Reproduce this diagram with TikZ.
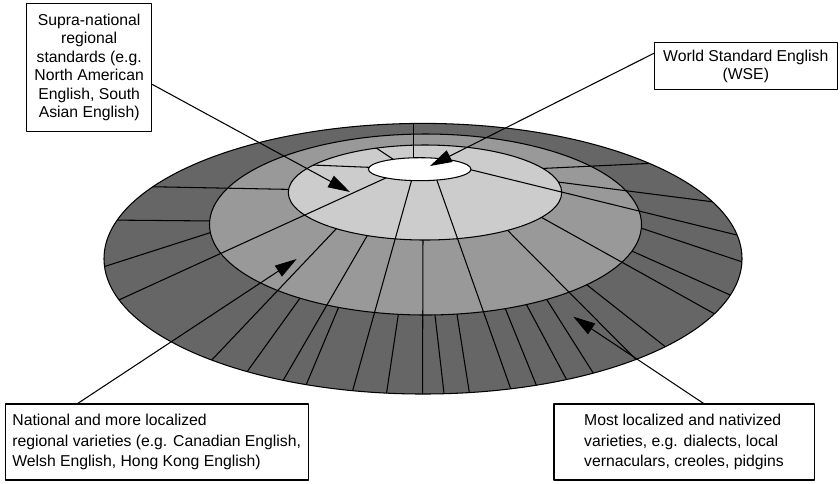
\documentclass[tikz,border=0pt]{standalone}
\usepackage{fontspec}
\setmainfont{Liberation Sans}
\usetikzlibrary{arrows.meta}
\definecolor{ringdark}{gray}{0.4}
\definecolor{ringmid}{gray}{0.6}
\definecolor{ringlight}{gray}{0.8}
\newcommand{\outerlines}{216/221/105/220, 216/230.8/98/268.6, 303/294/244/376, 340/304/304/390, 399/310/385.5/400, 434.4/310/445/402, 456/308/470.5/400, 503/303/539.5/393, 524/300/570/386, 544.5/296/597/379, 582/281/672/352, 628/249.3/738/298.5, 636/226.4/750/264.5}
\newcommand{\lightlines}{296/189.5/140/186.5, 342/222.7/207/365, 370.5/230/279/387.5, 423/233/422.5/402, 503/225.7/643/366.5, 535/213.8/722/318, 550/181/722/203, 535/168.8/662/162.8}
\newcommand{\whitelines}{413.3/165/413.3/115, 395.6/173.5/110/304, 413.5/173.5/350.5/398.3, 434.5/173.5/514/398, 462/167.6/747/237.5}
\newcommand{\innerlines}{397.7/162.3/371.7/145, 376/167.6/300/164.5}
\begin{document}
\begin{tikzpicture}[x=0.025cm,y=-0.025cm,>={Triangle[length=5.5mm,width=3.2mm]},line join=round,line cap=round,line width=0.75pt,
	callout/.style={draw,fill=white,inner sep=2pt,align=center,font=\fontsize{11.2}{13.2}\selectfont},
	widecallout/.style={callout,align=left,font=\fontsize{11.2}{14.4}\selectfont}]
	\useasboundingbox (0,0) rectangle (840,483);
	\coordinate (outerc) at (423,258.7);
	\coordinate (midc) at (425.5,224.5);
	\coordinate (lightc) at (425,192.5);
	\coordinate (whitec) at (419.7,169.2);
	\fill[ringdark] (outerc) ellipse [x radius=319,y radius=135.3];
	\begin{scope}
		\clip (outerc) ellipse [x radius=319,y radius=135.3];
		\foreach \xa/\ya/\xb/\yb in \outerlines {\draw (\xa,\ya)--(\xb,\yb);}
		\foreach \xa/\ya/\xb/\yb in \lightlines {\draw (\xa,\ya)--(\xb,\yb);}
		\foreach \xa/\ya/\xb/\yb in \whitelines {\draw (\xa,\ya)--(\xb,\yb);}
	\end{scope}
	\fill[ringmid] (midc) ellipse [x radius=216,y radius=90.5];
	\begin{scope}
		\clip (midc) ellipse [x radius=216,y radius=90.5];
		\foreach \xa/\ya/\xb/\yb in \lightlines {\draw (\xa,\ya)--(\xb,\yb);}
		\foreach \xa/\ya/\xb/\yb in \whitelines {\draw (\xa,\ya)--(\xb,\yb);}
	\end{scope}
	\fill[ringlight] (lightc) ellipse [x radius=136.7,y radius=47.5];
	\begin{scope}
		\clip (lightc) ellipse [x radius=136.7,y radius=47.5];
		\foreach \xa/\ya/\xb/\yb in \whitelines {\draw (\xa,\ya)--(\xb,\yb);}
		\foreach \xa/\ya/\xb/\yb in \innerlines {\draw (\xa,\ya)--(\xb,\yb);}
	\end{scope}
	\fill[white] (whitec) ellipse [x radius=51.3,y radius=11.5];
	\draw (outerc) ellipse [x radius=319,y radius=135.3];
	\draw (midc) ellipse [x radius=216,y radius=90.5];
	\draw (lightc) ellipse [x radius=136.7,y radius=47.5];
	\draw (whitec) ellipse [x radius=51.3,y radius=11.5];
	\node[callout,minimum width=3.125cm,minimum height=3.21cm] (supra) at (89.2,67.5) {Supra-national\\regional\\standards (e.g.\\North American\\English, South\\Asian English)};
	\node[callout,minimum width=4.575cm,minimum height=1.18cm] (wse) at (745.8,66.3) {World Standard English\\(WSE)};
	\node[widecallout,minimum width=7.58cm,minimum height=1.9cm] (natl) at (156.7,442) {National and more localized\\regional varieties (e.g. Canadian English,\\Welsh English, Hong Kong English)};
	\node[widecallout,minimum width=6.5cm,minimum height=1.9cm] (local) at (684,442) {Most localized and nativized\\varieties, e.g. dialects, local\\vernaculars, creoles, pidgins};
	\coordinate (tipsupra) at (350,192);
	\coordinate (tipwse) at (430,166);
	\coordinate (tipnatl) at (296.7,259);
	\coordinate (tiplocal) at (573.3,316.7);
	\draw[->] (supra.-15)--(tipsupra);
	\draw[->] (wse.172)--(tipwse);
	\draw[->] (natl.154)--(tipnatl);
	\draw[->] (local.63)--(tiplocal);
\end{tikzpicture}
\end{document}
